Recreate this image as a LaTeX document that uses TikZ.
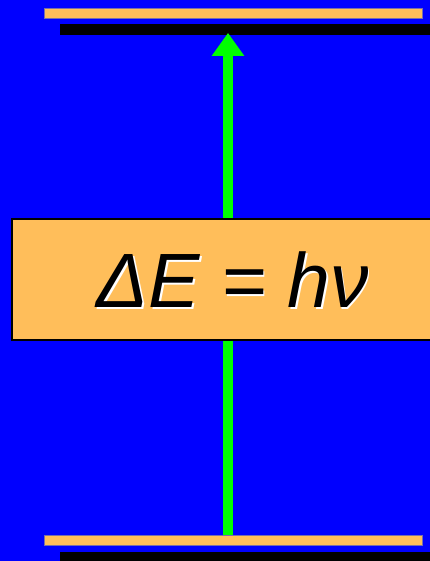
\documentclass[tikz,border=0pt]{standalone}
\usepackage{fontspec}
\setmainfont{Liberation Sans}
\usetikzlibrary{arrows.meta}
\definecolor{bgblue}{RGB}{0,0,255}
\definecolor{barorange}{RGB}{255,190,90}
\definecolor{baredge}{RGB}{120,110,170}
\definecolor{arrgreen}{RGB}{0,255,0}
\newcommand{\shadowtext}[1]{\rlap{\hspace{1.5pt}\raisebox{-2pt}{\color{white}#1}}#1}
\tikzset{
  orangebar/.style={fill=barorange, draw=baredge, line width=0.6pt, minimum width=378pt, minimum height=10pt, inner sep=0pt},
  blackbar/.style={fill=black, draw=none, minimum width=372pt, minimum height=10.7pt, inner sep=0pt},
  eqbox/.style={fill=barorange, draw=black, line width=2pt, minimum width=420pt, minimum height=121pt, inner sep=0pt},
  eqtext/.style={font=\fontsize{77}{80}\selectfont\itshape, inner sep=0pt, anchor=base},
  greenarrow/.style={draw=arrgreen, line width=10pt, -{Triangle[length=23pt,width=31pt]}}
}
\begin{document}
\begin{tikzpicture}[x=1pt,y=-1pt]
\useasboundingbox (0,0) rectangle (430,561);
\clip (0,0) rectangle (430,561);
\fill[bgblue] (0,0) rectangle (430,561);
\coordinate (ax) at (228,0);
\node[orangebar] (top) at (233,13.3) {};
\node[blackbar] (topblack) at (246,29.35) {};
\node[orangebar] (bot) at (233,540.6) {};
\node[blackbar] (botblack) at (246,557.4) {};
\draw[greenarrow] (bot.north -| ax) -- ([yshift=2pt]topblack.south -| ax);
\node[orangebar] at (bot.center) {};
\node[eqbox] (box) at (222,279.5) {};
\node[eqtext] (eq) at (233,307) {\shadowtext{ΔE = hν}};
\end{tikzpicture}
\end{document}
